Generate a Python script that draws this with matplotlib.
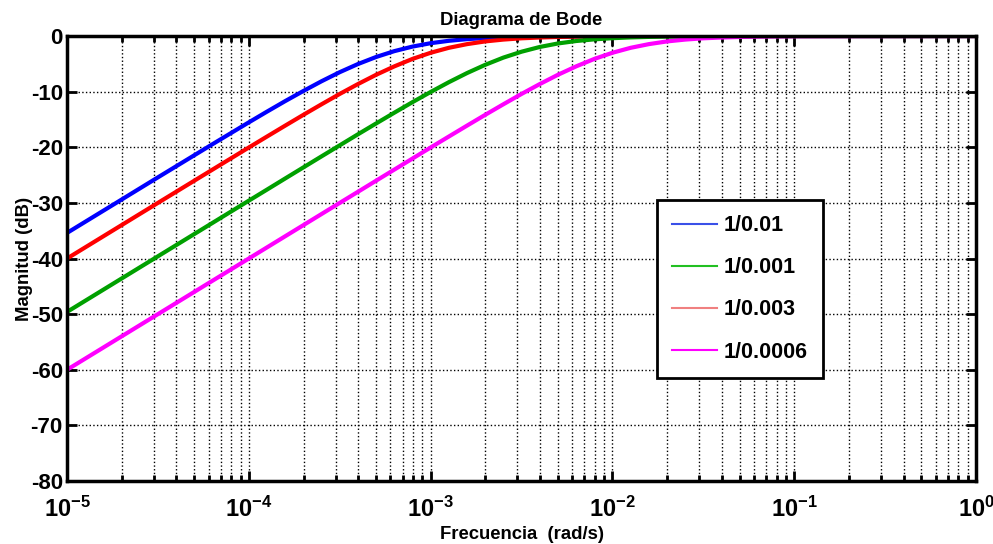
import math
import matplotlib
matplotlib.use("Agg")
import matplotlib.pyplot as plt
from matplotlib.lines import Line2D
from matplotlib.ticker import FixedLocator, FuncFormatter, LogLocator, NullFormatter

plt.rcParams["font.family"] = ["Liberation Sans", "DejaVu Sans"]
plt.rcParams["font.weight"] = "bold"
plt.rcParams["axes.unicode_minus"] = False
plt.rcParams["mathtext.fontset"] = "custom"
plt.rcParams["mathtext.rm"] = "Liberation Sans:bold"
plt.rcParams["mathtext.bf"] = "Liberation Sans:bold"

# frequency as log10(rad/s) and magnitudes (dB)
log_freq = [-5.0, -4.5, -4.2,
            -4.0, -3.9, -3.8, -3.7, -3.6, -3.5, -3.4, -3.3, -3.2, -3.1,
            -3.0, -2.9, -2.8, -2.7, -2.6, -2.5, -2.4, -2.3, -2.2, -2.1,
            -2.0, -1.9, -1.8, -1.7, -1.6, -1.5, -1.4, -1.3, -1.2, -1.1,
            -1.0, -0.5, 0.0]
mag_blue = [-35.4, -25.41, -19.45,
            -15.52, -13.59, -11.70, -9.88, -8.13, -6.50, -5.04, -3.77, -2.72, -1.90,
            -1.29, -0.86, -0.56, -0.36, -0.23, -0.15, -0.09, -0.06, -0.04, -0.02,
            -0.01, 0, 0, 0, 0, 0, 0, 0, 0, 0,
            0, 0, 0]
mag_red = [-40.0, -30.0, -24.02,
           -20.04, -18.07, -16.11, -14.17, -12.27, -10.41, -8.64, -6.97, -5.46, -4.12,
           -3.01, -2.12, -1.46, -0.97, -0.64, -0.41, -0.27, -0.17, -0.11, -0.07,
           -0.04, -0.03, -0.02, -0.01, 0, 0, 0, 0, 0, 0,
           0, 0, 0]
mag_green = [-49.6, -39.6, -33.6,
             -29.6, -27.61, -25.61, -23.62, -21.63, -19.65, -17.67, -15.72, -13.79, -11.89,
             -10.06, -8.30, -6.66, -5.18, -3.88, -2.82, -1.97, -1.34, -0.90, -0.60,
             -0.39, -0.25, -0.16, -0.10, -0.07, -0.04, -0.03, -0.02, -0.01, 0,
             0, 0, 0]
mag_magenta = [-60.0, -50.0, -44.0,
               -40.0, -38.0, -36.0, -34.0, -32.0, -30.0, -28.01, -26.01, -24.02, -22.03,
               -20.04, -18.07, -16.11, -14.17, -12.27, -10.41, -8.64, -6.97, -5.46, -4.12,
               -3.01, -2.12, -1.46, -0.97, -0.64, -0.41, -0.27, -0.17, -0.11, -0.07,
               -0.04, -0.01, 0]

labels = ["1/0.01", "1/0.001", "1/0.003", "1/0.0006"]
legend_colors = ["#3a50e8", "#22c022", "#f08080", "#ff00ff"]

freq = [10 ** e for e in log_freq]

fig = plt.figure(figsize=(9.93, 5.44), dpi=100)
ax = fig.add_axes([0.0675, 0.1158, 0.9155, 0.818])

ax.semilogx(freq, mag_blue, color="#0000ff", lw=3)
ax.semilogx(freq, mag_red, color="#ff0000", lw=3)
ax.semilogx(freq, mag_green, color="#00a000", lw=3)
ax.semilogx(freq, mag_magenta, color="#ff00ff", lw=3)

ax.set_xlim(1e-5, 1)
ax.set_ylim(-80, 0)
ax.yaxis.set_major_locator(FixedLocator(range(-80, 1, 10)))
ax.xaxis.set_major_locator(LogLocator(base=10, numticks=10))
ax.xaxis.set_minor_locator(LogLocator(base=10, subs=range(2, 10), numticks=10))
ax.xaxis.set_minor_formatter(NullFormatter())
ax.xaxis.set_major_formatter(FuncFormatter(
    lambda v, p: r"$\mathbf{10^{%d}}$" % round(math.log10(v))))

ax.grid(True, which="major", color="black", linestyle=":", lw=1)
ax.grid(True, which="minor", axis="x", color="black", linestyle=":", lw=1)

ax.tick_params(which="both", direction="in", top=True, right=True, width=2)
ax.tick_params(which="major", length=7)
ax.tick_params(which="minor", length=4)
ax.tick_params(axis="x", which="major", labelsize=17, pad=11)
ax.tick_params(axis="y", which="major", labelsize=16, pad=3)
for lab in ax.get_yticklabels():
    lab.set_fontweight("bold")
for s in ax.spines.values():
    s.set_linewidth(2.5)

ax.set_title("Diagrama de Bode", fontsize=13.3, fontweight="bold", pad=8)
ax.set_xlabel("Frecuencia  (rad/s)", fontsize=13.3, fontweight="bold", labelpad=3)
ax.set_ylabel("Magnitud (dB)", fontsize=13.3, fontweight="bold", labelpad=-2)

handles = [Line2D([0], [0], color=c, lw=1.5) for c in legend_colors]
leg = ax.legend(handles, labels, loc="upper left", bbox_to_anchor=(0.649, 0.631),
                prop={"size": 15.5, "weight": "bold"}, fancybox=False,
                framealpha=1, edgecolor="black", handlelength=2.1,
                labelspacing=0.98, borderpad=0.7, handletextpad=0.3,
                borderaxespad=0)
leg.get_frame().set_linewidth(2)

fig.savefig("out.png", dpi=100)
